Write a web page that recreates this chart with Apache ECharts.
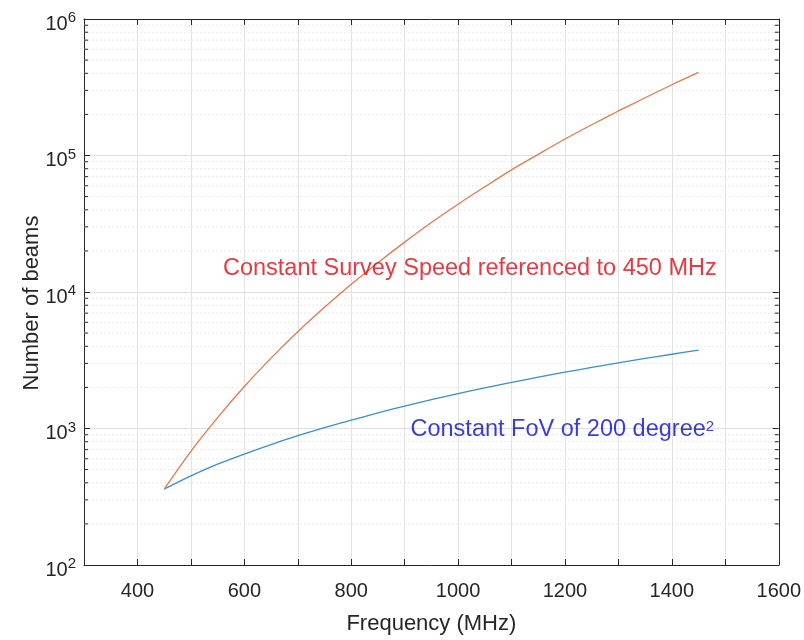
<!DOCTYPE html>
<html>
<head>
<meta charset="utf-8">
<script src="https://cdn.jsdelivr.net/npm/echarts@6/dist/echarts.min.js"></script>
<style>html,body{margin:0;padding:0;background:#fff;}#c{width:804px;height:640px;}</style>
</head>
<body>
<div id="c"></div>
<script>
// Data
const frequencies = [450,500,550,600,650,700,750,800,850,900,950,1000,1050,1100,1150,1200,1250,1300,1350,1400,1450];
const surveySpeedBeams = [360,680,1200,2030,3280,5110,7720,11400,16400,23200,32300,44000,59000,78500,102000,132000,168000,212000,265000,330000,406000];
const fovBeams = [360,450,548,650,762,885,1015,1150,1300,1460,1625,1800,1985,2175,2375,2585,2800,3030,3260,3500,3750];
const xTicks = [400,600,800,1000,1200,1400,1600];
const labelSurvey = 'Constant Survey Speed referenced to 450 MHz';
const labelSurveyAt = [1022, 14900];
const labelFov = 'Constant FoV of 200 degree';
const labelFovAt = [1195, 975];

const XMIN = 300, XMAX = 1600, YMIN = 100, YMAX = 1000000;
const minorValues = [];
for (let d = 100; d < YMAX; d *= 10) for (let k = 2; k <= 9; k++) minorValues.push(d * k);

const FONT = '"Liberation Sans", Arial, Helvetica, sans-serif';
const axisColor = '#262626';

const chart = echarts.init(document.getElementById('c'));
const pairs = (xs, ys) => xs.map((x, i) => [x, ys[i]]);

const supFmt = v => '{b|10}{s|' + Math.round(Math.log10(v)) + '}';

chart.setOption({
  animation: false,
  textStyle: {fontFamily: FONT},
  grid: {left: 84, right: 22, top: 19, bottom: 67, containLabel: false},
  xAxis: [{
    type: 'value', min: XMIN, max: XMAX, interval: 100,
    name: 'Frequency (MHz)', nameLocation: 'middle', nameGap: 48, nameMoveOverlap: false,
    nameTextStyle: {fontSize: 22, color: axisColor, fontFamily: FONT},
    axisLine: {show: true, onZero: false, lineStyle: {color: axisColor, width: 1}},
    axisTick: {show: true, inside: true, length: 6, lineStyle: {color: axisColor},
      interval: (i, v) => xTicks.indexOf(v) >= 0},
    axisLabel: {fontSize: 20, color: axisColor, margin: 16, fontFamily: FONT,
      formatter: v => xTicks.indexOf(v) >= 0 ? String(v) : ''},
    splitLine: {show: true, lineStyle: {color: '#e3e3e3', width: 1},
      interval: (i, v) => xTicks.indexOf(v) >= 0}
  }, {
    type: 'value', min: XMIN, max: XMAX, interval: 100, position: 'top',
    axisLine: {show: true, onZero: false, lineStyle: {color: axisColor, width: 1}},
    axisTick: {show: true, inside: true, length: 6, lineStyle: {color: axisColor},
      interval: (i, v) => xTicks.indexOf(v) >= 0},
    axisLabel: {show: false}, splitLine: {show: false}
  }],
  yAxis: [{
    type: 'log', logBase: 10, min: YMIN, max: YMAX,
    name: 'Number of beams', nameLocation: 'middle', nameGap: 41, nameRotate: 90, nameMoveOverlap: false,
    nameTextStyle: {fontSize: 22, color: axisColor, fontFamily: FONT, padding: [0, 22, 0, 0]},
    axisLine: {show: true, onZero: false, lineStyle: {color: axisColor, width: 1}},
    axisTick: {show: true, inside: true, length: 6, lineStyle: {color: axisColor}},
    axisLabel: {color: axisColor, margin: 8, formatter: supFmt, padding: [10, 0, 0, 0],
      rich: {
        b: {fontSize: 20, color: axisColor, fontFamily: FONT, verticalAlign: 'middle'},
        s: {fontSize: 15, color: axisColor, fontFamily: FONT, verticalAlign: 'bottom', padding: [0, 0, 12, 0]}
      }},
    splitLine: {show: true, lineStyle: {color: '#e0e0e0', width: 1}}
  }, {
    type: 'log', logBase: 10, min: YMIN, max: YMAX, position: 'right',
    axisLine: {show: true, onZero: false, lineStyle: {color: axisColor, width: 1}},
    axisTick: {show: true, inside: true, length: 6, lineStyle: {color: axisColor}},
    axisLabel: {show: false}, splitLine: {show: false}
  }],
  series: [
    {
      type: 'custom', silent: true, z: 1,
      data: minorValues.map(v => [XMIN, v]),
      renderItem: (params, api) => {
        const v = api.value(1);
        const p1 = api.coord([XMIN, v]);
        const p2 = api.coord([XMAX, v]);
        return {type: 'group', children: [
          {type: 'line', shape: {x1: p1[0], y1: p1[1], x2: p2[0], y2: p2[1]},
            style: {stroke: '#e8e8e8', lineWidth: 1, lineDash: [2, 2]}},
          {type: 'line', shape: {x1: p1[0], y1: p1[1], x2: p1[0] + 4, y2: p1[1]},
            style: {stroke: axisColor, lineWidth: 1}},
          {type: 'line', shape: {x1: p2[0] - 4, y1: p2[1], x2: p2[0], y2: p2[1]},
            style: {stroke: axisColor, lineWidth: 1}}
        ]};
      }
    },
    {
      name: 'Constant FoV', type: 'line', showSymbol: false, symbol: 'none', z: 3, smooth: 0.3,
      data: pairs(frequencies, fovBeams),
      lineStyle: {color: '#3d8ccc', width: 1.3}
    },
    {
      name: 'Constant Survey Speed', type: 'line', showSymbol: false, symbol: 'none', z: 3, smooth: 0.3,
      data: pairs(frequencies, surveySpeedBeams),
      lineStyle: {color: '#e07a4f', width: 1.3}
    },
    {
      type: 'scatter', silent: true, z: 4, symbol: 'circle', symbolSize: 1,
      itemStyle: {color: 'rgba(0,0,0,0)'},
      data: [
        {value: labelSurveyAt, label: {show: true, position: 'inside', formatter: labelSurvey,
          fontSize: 23.5, color: '#dd0a14', fontFamily: FONT, textBorderWidth: 0, textBorderColor: 'transparent'}},
        {value: labelFovAt, label: {show: true, position: 'inside', formatter: '{t|' + labelFov + '}{s|2}',
          textBorderWidth: 0, textBorderColor: 'transparent',
          rich: {
            t: {fontSize: 23.5, color: '#0a0ad0', fontFamily: FONT, verticalAlign: 'middle', textBorderWidth: 0},
            s: {fontSize: 15, color: '#0a0ad0', fontFamily: FONT, verticalAlign: 'bottom', padding: [0, 0, 8, 0], textBorderWidth: 0}
          }}}
      ]
    }
  ]
});
</script>
</body>
</html>
